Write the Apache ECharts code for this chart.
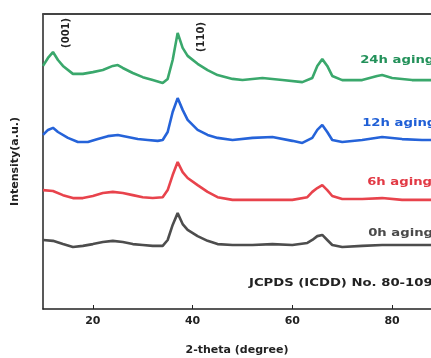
<!DOCTYPE html>
<html><head><meta charset="utf-8">
<script src="https://cdn.jsdelivr.net/npm/echarts@6/dist/echarts.min.js"></script>
<style>html,body{margin:0;padding:0;background:#fff}#c{width:431px;height:358px}</style>
</head><body><div id="c"></div>
<script>
// 2-theta positions (degree) and intensities (a.u., offset stacked as in figure)
const thetaGreen = [10,11,12,13,14,16,18,20,22,24,25,26,28,30,32,34,35,36,37,38,39,41,43,45,48,50,54,58,62,64,65,66,67,68,70,74,77,78,80,84,88,90];
const aging24h  = [82.4,85.1,87.1,84.4,82.4,79.7,79.7,80.3,81.0,82.4,82.7,81.7,80.0,78.6,77.6,76.6,78.0,84.4,93.6,88.5,85.8,83.1,81.0,79.3,78.0,77.6,78.3,77.6,76.9,78.3,82.4,84.7,82.4,79.0,77.6,77.6,79.0,79.3,78.3,77.6,77.6,77.6];
const thetaBlue = [10,11,12,13,15,17,19,21,23,25,27,29,31,33,34,35,36,37,38,39,41,43,45,48,52,56,60,62,64,65,66,67,68,70,74,78,82,86,90];
const aging12h  = [59.0,60.7,61.4,60.0,58.0,56.6,56.6,57.6,58.6,59.0,58.3,57.6,57.3,57.0,57.3,60.0,66.8,71.5,67.5,64.1,60.7,59.0,58.0,57.3,58.0,58.3,57.0,56.3,58.0,60.7,62.4,60.0,57.3,56.6,57.3,58.3,57.6,57.3,57.3];
const thetaLow  = [10,12,14,16,18,20,22,24,26,28,30,32,34,35,36,37,38,39,41,43,45,48,52,56,60,63,64,65,66,67,68,70,74,78,82,86,90];
const aging6h   = [40.3,40.0,38.6,37.6,37.6,38.3,39.3,39.7,39.3,38.6,37.9,37.6,37.9,40.3,45.4,49.8,46.4,44.4,42.0,39.7,37.9,37.0,37.0,37.0,37.0,37.9,39.7,41.0,42.0,40.3,38.3,37.3,37.3,37.6,37.0,37.0,37.0];
const aging0h   = [23.4,23.1,22.0,21.0,21.4,22.0,22.7,23.1,22.7,22.0,21.7,21.4,21.4,23.4,28.5,32.5,28.8,26.8,24.7,23.1,22.0,21.7,21.7,22.0,21.7,22.4,23.4,24.7,25.1,23.4,21.7,21.0,21.4,21.7,21.7,21.7,21.7];
const xTicks = [20,40,60,80];
const seriesNames = ['24h aging','12h aging','6h aging','0h aging'];
const lineColors = ['#3aa86c','#2563d9','#e8434c','#4d4d4d'];
const labelColors = ['#23915a','#1f5fd6','#e23a45','#4a4a4a'];
// label anchor points [2-theta, intensity]
const labelPos = [[73.6,84.4],[74.0,63.1],[75.0,43.1],[75.2,25.8]];
const refText = 'JCPDS (ICDD) No. 80-1093';
const refPos = [51.3,8.8];
const peakNames = ['(001)','(110)'];
const peakPos = [[14.6,93.6],[41.7,92.2]];

const pair = (xs, ys) => xs.map((x,i)=>[x,ys[i]]);
const chart = echarts.init(document.getElementById('c'));
const datasets = [pair(thetaGreen,aging24h),pair(thetaBlue,aging12h),pair(thetaLow,aging6h),pair(thetaLow,aging0h)];
const font = 'DejaVu Sans';
chart.setOption({
  animation:false,
  grid:{left:43,top:14,right:0,bottom:49,show:false,containLabel:false,outerBoundsMode:'none'},
  xAxis:[{type:'value',min:10,max:87.8,interval:10,
    axisLine:{lineStyle:{color:'#222',width:1.5}},
    axisTick:{inside:true,length:4,lineStyle:{color:'#222'},customValues:xTicks},
    axisLabel:{customValues:xTicks,color:'#222',fontFamily:font,fontWeight:'bold',fontSize:11,margin:7},
    splitLine:{show:false},
    name:'2-theta (degree)',nameLocation:'middle',nameGap:36,
    nameTextStyle:{color:'#222',fontFamily:font,fontWeight:'bold',fontSize:11}},
   {type:'value',position:'top',min:10,max:87.8,
    axisLine:{show:true,lineStyle:{color:'#444',width:1.8}},
    axisTick:{show:false},axisLabel:{show:false},splitLine:{show:false}}],
  yAxis:{type:'value',min:0,max:100,
    axisLine:{show:true,lineStyle:{color:'#222',width:1.5}},
    axisTick:{show:false},axisLabel:{show:false},splitLine:{show:false},
    name:'Intensity(a.u.)',nameLocation:'middle',nameGap:22,nameRotate:90,
    nameTextStyle:{color:'#222',fontFamily:font,fontWeight:'bold',fontSize:11}},
  series:datasets.map((d,i)=>({type:'line',name:seriesNames[i],data:d,showSymbol:false,
    lineStyle:{color:lineColors[i],width:2.6},z:5}))
});
const g = [];
seriesNames.forEach((n,i)=>{
  const p = chart.convertToPixel({gridIndex:0},labelPos[i]);
  g.push({type:'text',x:p[0],y:p[1],scaleX:1.2,style:{text:n,fill:labelColors[i],font:'bold 11px "DejaVu Sans"',textVerticalAlign:'middle'}});
});
const rp = chart.convertToPixel({gridIndex:0},refPos);
g.push({type:'text',x:rp[0],y:rp[1],scaleX:1.2,style:{text:refText,fill:'#222',font:'bold 11px "DejaVu Sans"',textVerticalAlign:'middle'}});
peakNames.forEach((n,i)=>{
  const p = chart.convertToPixel({gridIndex:0},peakPos[i]);
  g.push({type:'text',x:p[0],y:p[1],rotation:Math.PI/2,style:{text:n,fill:'#222',font:'bold 10px "DejaVu Sans"',textAlign:'center',textVerticalAlign:'middle'}});
});
chart.setOption({graphic:g});
</script></body></html>
